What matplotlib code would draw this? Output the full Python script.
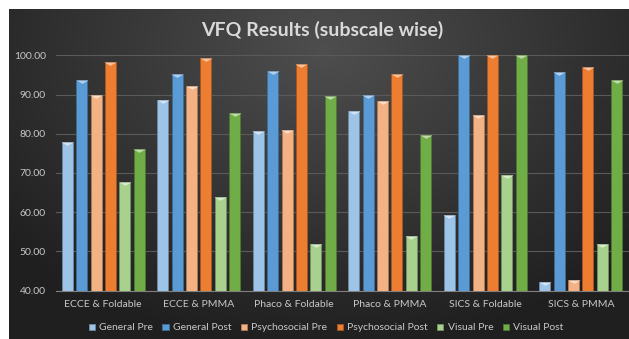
import numpy as np
import matplotlib
matplotlib.use('Agg')
import matplotlib.pyplot as plt
from matplotlib.path import Path
from matplotlib.colors import to_rgb

plt.rcParams['font.family'] = ['Lato', 'DejaVu Sans']

groups = ['ECCE & Foldable', 'ECCE & PMMA', 'Phaco & Foldable',
          'Phaco & PMMA', 'SICS & Foldable', 'SICS & PMMA']
series = ['General Pre', 'General Post', 'Psychosocial Pre',
          'Psychosocial Post', 'Visual Pre', 'Visual Post']

general_pre = [78.0, 88.5, 80.7, 85.8, 59.3, 42.1]
general_post = [93.6, 95.2, 96.0, 89.9, 100.0, 95.8]
psycho_pre = [90.0, 92.1, 81.0, 88.4, 84.9, 42.6]
psycho_post = [98.2, 99.4, 97.7, 95.3, 100.0, 96.9]
visual_pre = [67.8, 63.8, 51.8, 53.9, 69.6, 52.0]
visual_post = [76.0, 85.4, 89.7, 79.7, 100.0, 93.8]

colors = ['#9dc3e6', '#5b9bd5', '#f4b183', '#ed7d31', '#a9d18e', '#70ad47']
values = [general_pre, general_post, psycho_pre, psycho_post,
          visual_pre, visual_post]

W, H = 629, 339
fig = plt.figure(figsize=(W / 100, H / 100), dpi=100, facecolor='white')

# dark panel with a soft radial glow behind the chart
bg = fig.add_axes([9 / W, 0, 1 - 9 / W, 1 - 9 / H])
bg.set_axis_off()
yy, xx = np.mgrid[0:330, 0:620]
d = np.sqrt(((xx - 315) / 420.0) ** 2 + ((yy - 40) / 300.0) ** 2)
d = np.clip(d, 0, 1)
light = np.array(to_rgb('#4e4e4e'))
dark = np.array(to_rgb('#1f1f1f'))
img = light[None, None, :] * (1 - d[..., None]) + dark[None, None, :] * d[..., None]
bg.imshow(img, aspect='auto', extent=(0, 1, 0, 1), origin='upper')
bg.set_xlim(0, 1)
bg.set_ylim(0, 1)

ax = fig.add_axes([55.5 / W, 1 - 290.7 / H, (628.5 - 55.5) / W, (290.7 - 55.3) / H])
ax.patch.set_alpha(0)

x = np.arange(len(groups))
pitch = 0.15
width = 0.115

# small triangular bevel drawn on top of each bar
cap = Path([(-1, 0), (1, 0), (0, -0.55), (-1, 0)],
           [Path.MOVETO, Path.LINETO, Path.LINETO, Path.CLOSEPOLY])

for i, (name, vals, c) in enumerate(zip(series, values, colors)):
    pos = x + (i - 2.5) * pitch
    rgb = np.array(to_rgb(c))
    edge = rgb * 0.7
    ax.bar(pos, np.array(vals) - 40, width, bottom=40, color=c,
           edgecolor=edge, linewidth=0.6, label=name, zorder=3)
    lighter = rgb + (1 - rgb) * 0.55
    ax.scatter(pos, vals, marker=cap, s=75, color=lighter,
               linewidths=0, zorder=4)

ax.set_xlim(-0.5, 5.5)
ax.set_ylim(40, 100)
ax.set_yticks(np.arange(40, 101, 10))
ax.set_yticklabels(['%.2f' % v for v in np.arange(40, 101, 10)])
ax.set_xticks(x)
ax.set_xticklabels(groups)
ax.tick_params(axis='both', length=0, colors='#c8c8c8', labelsize=7.5)
ax.tick_params(axis='y', pad=7)
ax.tick_params(axis='x', pad=7)
ax.grid(axis='y', color='#5a5a5a', linewidth=0.8, zorder=0)
for s in ['top', 'right', 'left']:
    ax.spines[s].set_visible(False)
ax.spines['bottom'].set_color('#808080')
ax.spines['bottom'].set_linewidth(0.8)

fig.text(322 / W, 1 - 30 / H, 'VFQ Results (subscale wise)', ha='center',
         va='center', fontsize=14, fontweight='bold', color='#d9d9d9')

handles, labels = ax.get_legend_handles_labels()
leg = fig.legend(handles, labels, loc='center', ncol=6,
                 bbox_to_anchor=(326 / W, 1 - 328 / H), frameon=False,
                 fontsize=7.5, handlelength=0.6, handleheight=0.6,
                 handletextpad=0.4, columnspacing=0.9)
for t in leg.get_texts():
    t.set_color('#c8c8c8')

fig.savefig('out.png', dpi=100)
